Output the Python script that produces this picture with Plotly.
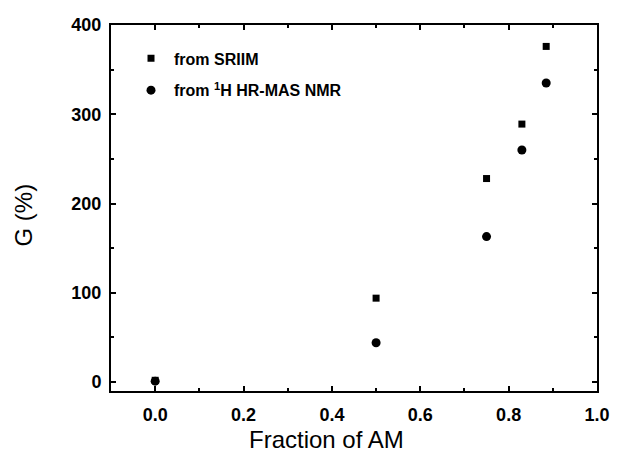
import plotly.graph_objects as go

# data
fraction_am = [0.0, 0.5, 0.75, 0.83, 0.885]
g_sriim = [2, 94, 228, 289, 376]
g_nmr = [1, 44, 163, 260, 335]

fig = go.Figure()
fig.add_trace(go.Scatter(x=fraction_am, y=g_sriim, mode='markers', name='from SRIIM',
                         legendgroup='a',
                         marker=dict(symbol='square', size=7, color='black')))
fig.add_trace(go.Scatter(x=fraction_am, y=g_nmr, mode='markers',
                         name='from <sup>1</sup>H HR-MAS NMR', legendgroup='b',
                         marker=dict(symbol='circle', size=9, color='black')))

axis_common = dict(showline=True, linecolor='black', linewidth=2, mirror='ticks',
                   ticks='inside', ticklen=5, tickwidth=2, tickcolor='black',
                   showgrid=False, zeroline=False,
                   tickfont=dict(family='Liberation Sans', size=18, color='black', weight='bold'))

title_font = dict(family='Liberation Sans', size=24, color='black')

fig.update_layout(
    width=622, height=455,
    margin=dict(l=111, r=15, t=25, b=64),
    paper_bgcolor='white', plot_bgcolor='white',
    showlegend=True,
    legend=dict(x=0.035, y=0.955, xanchor='left', yanchor='top', itemwidth=36,
                bgcolor='rgba(0,0,0,0)', tracegroupgap=8,
                font=dict(family='Liberation Sans', size=16, color='black', weight='bold')),
    xaxis=dict(range=[-0.1, 1.0], tickvals=[0, 0.2, 0.4, 0.6, 0.8, 1.0],
               ticktext=['0.0', '0.2', '0.4', '0.6', '0.8', '1.0'], ticklabelstandoff=6,
               minor=dict(dtick=0.1, tick0=0, ticks='inside', ticklen=3, tickwidth=2, tickcolor='black'),
               **axis_common),
    yaxis=dict(range=[-10, 400], tickvals=[0, 100, 200, 300, 400], ticklabelstandoff=4,
               minor=dict(dtick=50, tick0=0, ticks='inside', ticklen=3, tickwidth=2, tickcolor='black'),
               **axis_common),
    annotations=[
        dict(text='Fraction of AM', xref='paper', yref='paper', x=0.4435, y=-0.133,
             xanchor='center', yanchor='middle', showarrow=False, font=title_font),
        dict(text='G (%)', xref='paper', yref='paper', x=-0.18, y=0.481, textangle=-90,
             xanchor='center', yanchor='middle', showarrow=False, font=title_font),
    ],
)

# drop the default 8px page margin so the figure fills the window exactly
fig.write_html("out.html", config={'displayModeBar': False},
               post_script="document.body.style.margin='0px';")
